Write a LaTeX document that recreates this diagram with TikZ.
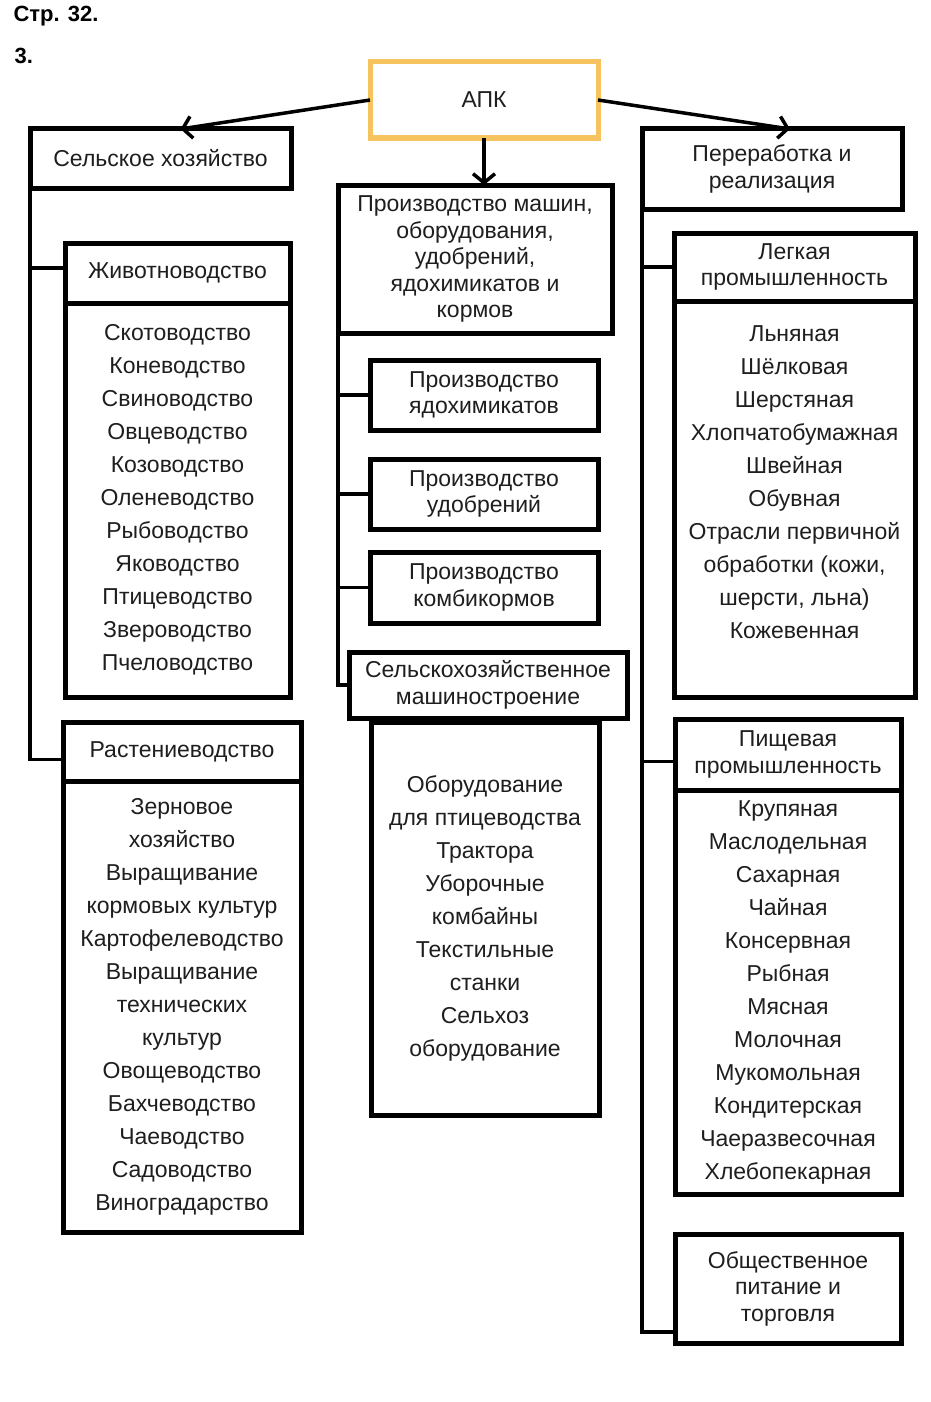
\documentclass[tikz,border=0pt]{standalone}
\usepackage{fontspec}
\setmainfont{Liberation Sans}
\usetikzlibrary{positioning,arrows.meta,calc}
\definecolor{apkorange}{HTML}{F6C35E}
\definecolor{inkgray}{HTML}{1E1E1E}
\newcommand{\boxfont}{\fontsize{23}{26.5}\selectfont}
\newcommand{\listfont}{\fontsize{23}{33}\selectfont}
\tikzset{
  box/.style={draw,line width=5pt,fill=white,align=center,inner sep=2pt,outer sep=0pt,text=inkgray,font=\boxfont},
  listbox/.style={box,font=\listfont},
  conn/.style={draw,line width=3.5pt},
  arr/.style={conn,-{Straight Barb[length=9pt,width=22pt,line width=3.5pt]}},
}

\begin{document}
\begin{tikzpicture}[x=1pt,y=-1pt]
\useasboundingbox (0,0) rectangle (931,1402);

% page heading
\node[anchor=west,font=\fontsize{22}{24}\selectfont\bfseries] (page) at (10,16) {Стр. 32.};
\node[anchor=west,font=\fontsize{22}{24}\selectfont\bfseries] (num) at (11,56) {3.};

% top
\node[box,draw=apkorange,minimum width=228pt,minimum height=76pt] (apk) at (484,100) {АПК};
\node[box,minimum width=261pt,minimum height=59pt] (sx) at (160.5,158.5) {Сельское хозяйство};
\node[box,minimum width=260pt,minimum height=80pt] (pererab) at (772,169) {Переработка и\\реализация};
\node[box,minimum width=274pt,minimum height=148pt] (proizv) at (475,259) {Производство машин,\\оборудования,\\удобрений,\\ядохимикатов и\\кормов};

% left column
\node[box,minimum width=225pt,minimum height=60pt] (zhivh) at (177.5,273) {Животноводство};
\node[listbox,minimum width=225pt,minimum height=394pt,below=0pt of zhivh] (zhivl)
  {Скотоводство\\Коневодство\\Свиноводство\\Овцеводство\\Козоводство\\Оленеводство\\Рыбоводство\\Яководство\\Птицеводство\\Звероводство\\Пчеловодство};
\node[box,minimum width=238pt,minimum height=59pt] (rasth) at (182,751.5) {Растениеводство};
\node[listbox,minimum width=238pt,minimum height=451pt,below=0pt of rasth] (rastl)
  {Зерновое\\хозяйство\\Выращивание\\кормовых культур\\Картофелеводство\\Выращивание\\технических\\культур\\Овощеводство\\Бахчеводство\\Чаеводство\\Садоводство\\Виноградарство};

% middle column
\node[box,minimum width=228pt,minimum height=70pt] (yadokh) at (484,395) {Производство\\ядохимикатов};
\node[box,minimum width=228pt,minimum height=70pt] (udobr) at (484,494) {Производство\\удобрений};
\node[box,minimum width=228pt,minimum height=71pt] (kombi) at (484,587.5) {Производство\\комбикормов};
\node[listbox,minimum width=228pt,minimum height=393pt] (mashl) at (485,918.5)
  {Оборудование\\для птицеводства\\Трактора\\Уборочные\\комбайны\\Текстильные\\станки\\Сельхоз\\оборудование};
\node[box,minimum width=278pt,minimum height=66pt] (selmash) at (488,685) {Сельскохозяйственное\\машиностроение};

% right column
\node[box,minimum width=241pt,minimum height=68pt] (legkh) at (794.5,267) {Легкая\\промышленность};
\node[listbox,minimum width=241pt,minimum height=396pt,below=0pt of legkh] (legkl)
  {Льняная\\Шёлковая\\Шерстяная\\Хлопчатобумажная\\Швейная\\Обувная\\Отрасли первичной\\обработки (кожи,\\шерсти, льна)\\Кожевенная\\~};
\node[box,minimum width=226pt,minimum height=71pt] (pishchh) at (788,754.5) {Пищевая\\промышленность};
\node[listbox,minimum width=226pt,minimum height=404pt,below=0pt of pishchh] (pishchl)
  {Крупяная\\Маслодельная\\Сахарная\\Чайная\\Консервная\\Рыбная\\Мясная\\Молочная\\Мукомольная\\Кондитерская\\Чаеразвесочная\\Хлебопекарная};
\node[box,minimum width=226pt,minimum height=109pt] (obshch) at (788,1288.5) {Общественное\\питание и\\торговля};

% arrows from АПК
\draw[arr] (apk.west) -- ([xshift=20pt]sx.north);
\draw[arr] (apk.east) -- ([xshift=18pt]pererab.north);
\draw[arr] (apk.south) -- (apk.south |- proizv.north);

% left trunk
\draw[conn] (sx.south west) |- ([yshift=-8pt]rasth.west);
\draw[conn] ([yshift=5pt]zhivh.west -| sx.south west) -- ([yshift=5pt]zhivh.west);

% middle trunk
\draw[conn] (proizv.south west) |- (selmash.west);
\foreach \n in {yadokh,udobr,kombi}
  \draw[conn] (\n.west -| proizv.south west) -- (\n.west);

% right trunk
\draw[conn] (pererab.south west) |- ([yshift=-43.5pt]obshch.west);
\draw[conn] (legkh.west -| pererab.south west) -- (legkh.west);
\draw[conn] ([yshift=-7pt]pishchh.west -| pererab.south west) -- ([yshift=-7pt]pishchh.west);

\end{tikzpicture}
\end{document}
